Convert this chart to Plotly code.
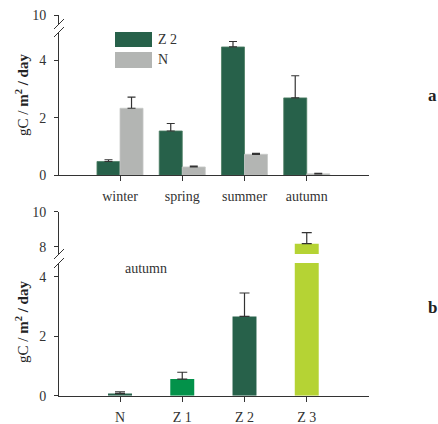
import plotly.graph_objects as go

# ---- data ----
seasons = ["winter", "spring", "summer", "autumn"]
z2_season = [0.48, 1.54, 4.46, 2.69]
z2_season_err = [0.06, 0.26, 0.19, 0.77]
n_season = [2.33, 0.29, 0.73, 0.05]
n_season_err = [0.39, 0.03, 0.03, 0.02]

sites = ["N", "Z 1", "Z 2", "Z 3"]
autumn_vals = [0.07, 0.56, 2.67, 8.17]
autumn_err = [0.06, 0.23, 0.79, 0.63]

C_Z2 = "#27614a"
C_N = "#b3b5b3"
C_Z1 = "#03924a"
C_Z3 = "#b5d334"
site_colors = [C_Z2, C_Z1, C_Z2, C_Z3]

W, H = 438, 424
FONT = "Liberation Serif, DejaVu Serif, serif"
AX = "#333333"

def px_x(p):
    return p / W

def px_y(p):
    return 1 - p / H

fig = go.Figure()

# panel a bars (lower and upper segment of broken axis)
for ya in ["y", "y2"]:
    fig.add_trace(go.Bar(
        x=seasons, y=z2_season, name="Z 2", xaxis="x", yaxis=ya,
        marker=dict(color=C_Z2, line=dict(color="#4d7d63", width=0.8)),
        error_y=dict(type="data", symmetric=False, array=z2_season_err,
                     arrayminus=[0] * 4, color=AX, thickness=1.2, width=4),
        showlegend=False))
    fig.add_trace(go.Bar(
        x=seasons, y=n_season, name="N", xaxis="x", yaxis=ya,
        marker=dict(color=C_N, line=dict(color="#c8c9c8", width=0.8)),
        error_y=dict(type="data", symmetric=False, array=n_season_err,
                     arrayminus=[0] * 4, color=AX, thickness=1.2, width=4),
        showlegend=False))

# panel b bars
for ya in ["y3", "y4"]:
    fig.add_trace(go.Bar(
        x=sites, y=autumn_vals, xaxis="x2", yaxis=ya, width=0.385,
        marker=dict(color=site_colors, line=dict(width=0)),
        error_y=dict(type="data", symmetric=False, array=autumn_err,
                     arrayminus=[0] * 4, color=AX, thickness=1.2, width=5),
        showlegend=False))

xdom = [px_x(59), px_x(369)]
tickfont = dict(family=FONT, size=14, color="#333333")

common_x = dict(domain=xdom, range=[-0.98, 4.0], showline=True, linecolor=AX,
                linewidth=1, ticks="outside", ticklen=5, tickcolor=AX,
                tickfont=tickfont, showgrid=False, zeroline=False, fixedrange=True,
                automargin=False, ticklabelstandoff=3)
common_y = dict(showline=True, linecolor=AX, linewidth=1, ticks="outside",
                ticklen=4, tickcolor=AX, tickfont=tickfont, showgrid=False,
                zeroline=False, fixedrange=True, automargin=False,
                ticklabelstandoff=5)

fig.update_layout(
    width=W, height=H,
    margin=dict(l=0, r=0, t=0, b=0, autoexpand=False),
    paper_bgcolor="white", plot_bgcolor="white",
    barmode="group", bargap=0.26, bargroupgap=0,
    font=dict(family=FONT, color="#333333"),
    xaxis=dict(anchor="y", **common_x),
    yaxis=dict(domain=[px_y(175.3), px_y(32)], range=[0, 4.98],
               tickvals=[0, 2, 4], anchor="x", **common_y),
    yaxis2=dict(domain=[px_y(24), px_y(15)], range=[9.45, 10.0],
                tickvals=[10], anchor="x", **common_y),
    xaxis2=dict(anchor="y3", **common_x),
    yaxis3=dict(domain=[px_y(395.7), px_y(263)], range=[0, 4.47],
                tickvals=[0, 2, 4], anchor="x2", **common_y),
    yaxis4=dict(domain=[px_y(254), px_y(211.7)], range=[7.58, 10.0],
                tickvals=[8, 10], anchor="x2", **common_y),
)

# axis break marks
shapes = []
for yc in [24, 32, 254, 263]:
    shapes.append(dict(type="line", xref="paper", yref="paper",
                       x0=px_x(54), y0=px_y(yc + 5), x1=px_x(64), y1=px_y(yc - 5),
                       line=dict(color=AX, width=1)))

# custom legend
legend_items = [("Z 2", C_Z2, 32, 47), ("N", C_N, 52, 68)]
annotations = []
for label, col, t, b in legend_items:
    shapes.append(dict(type="rect", xref="paper", yref="paper",
                       x0=px_x(115), x1=px_x(152), y0=px_y(b), y1=px_y(t),
                       fillcolor=col, line=dict(width=0)))
    annotations.append(dict(text=label, xref="paper", yref="paper",
                            x=px_x(156), y=px_y((t + b) / 2), xanchor="left",
                            yanchor="middle", showarrow=False,
                            font=dict(family=FONT, size=14, color="#333333")))

ytitle = "gC / <b>m<sup>2</sup> / day</b>"
for yc in [95, 322]:
    annotations.append(dict(text=ytitle, xref="paper", yref="paper",
                            x=px_x(22), y=px_y(yc), textangle=-90,
                            xanchor="center", yanchor="middle", showarrow=False,
                            font=dict(family=FONT, size=15, color="#222222")))

annotations.append(dict(text="autumn", xref="paper", yref="paper",
                        x=px_x(146), y=px_y(268), xanchor="center", yanchor="middle",
                        showarrow=False, font=dict(family=FONT, size=14, color="#333333")))
for lab, yc in [("a", 95), ("b", 307)]:
    annotations.append(dict(text="<b>" + lab + "</b>", xref="paper", yref="paper",
                            x=px_x(432), y=px_y(yc), xanchor="center", yanchor="middle",
                            showarrow=False, font=dict(family=FONT, size=17, color="#222222")))

fig.update_layout(shapes=shapes, annotations=annotations)
fig.write_html("out.html", config={"displayModeBar": False},
               post_script="document.body.style.margin='0';document.body.style.overflow='hidden';")
